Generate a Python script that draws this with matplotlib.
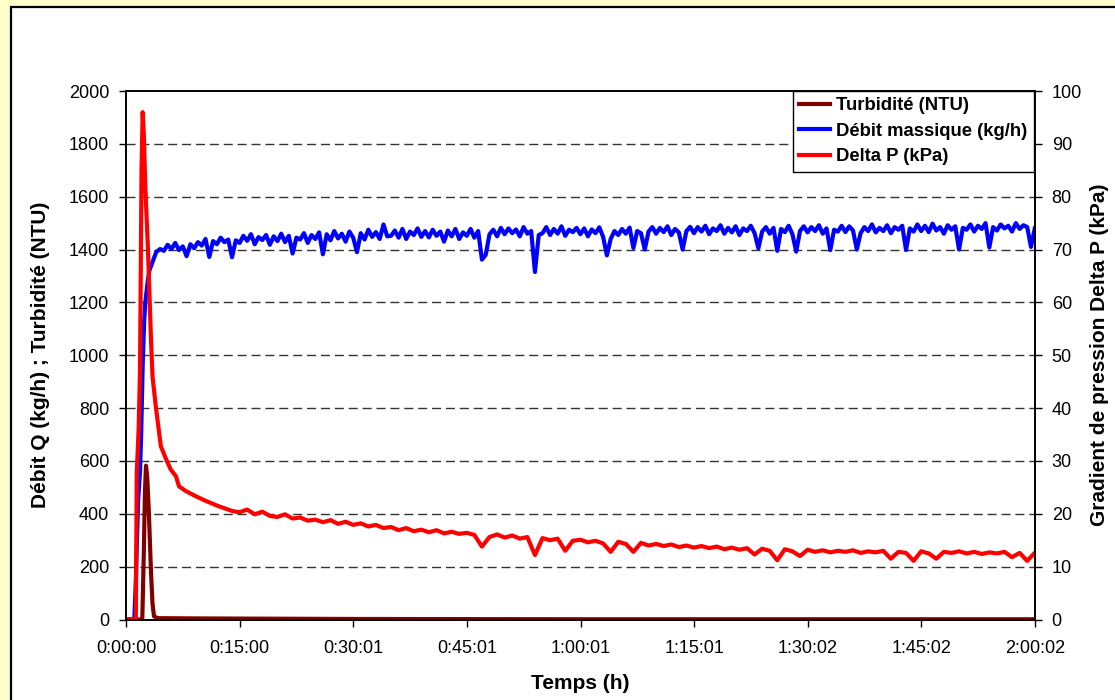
import matplotlib
matplotlib.use("Agg")
import matplotlib.pyplot as plt
from matplotlib.patches import Rectangle
import numpy as np

plt.rcParams['font.family'] = ['Liberation Sans', 'DejaVu Sans']

# time in minutes
x_ticks = [0, 15, 30, 45, 60, 75, 90, 105, 120]
x_ticklabels = ['0:00:00', '0:15:00', '0:30:01', '0:45:01', '1:00:01',
                '1:15:01', '1:30:02', '1:45:02', '2:00:02']

# Turbidité (NTU)
turb_t = [0, 2.15, 2.35, 2.5, 2.64, 2.8, 3.0, 3.3, 3.5, 3.7, 4.2, 10, 20, 30, 60, 120]
turb_v = [0, 0, 250, 480, 582, 540, 420, 180, 60, 12, 5, 4, 3, 2, 1, 1]

# Débit massique (kg/h) - start-up then 0.5 min samples from 5 min
debit_start_t = [0, 1.1, 1.3, 1.6, 1.85, 2.0, 2.2, 2.4, 2.55, 2.86, 3.08, 3.5, 4.0, 4.5]
debit_start_v = [0, 0, 150, 450, 560, 700, 960, 1130, 1201, 1277, 1320, 1353, 1391, 1402]
debit_steady = [
    1395, 1418, 1402, 1425, 1398, 1412, 1375, 1420, 1405, 1428,
    1415, 1440, 1372, 1432, 1420, 1445, 1428, 1438, 1371, 1435,
    1425, 1452, 1433, 1458, 1420, 1447, 1436, 1455, 1418, 1450,
    1432, 1460, 1428, 1452, 1385, 1445, 1438, 1462, 1425, 1455,
    1440, 1465, 1382, 1458, 1435, 1470, 1442, 1460, 1430, 1468,
    1445, 1390, 1462, 1438, 1475, 1448, 1466, 1440, 1495, 1450,
    1452, 1472, 1445, 1478, 1440, 1468, 1455, 1480, 1448, 1470,
    1446, 1475, 1452, 1468, 1430, 1472, 1450, 1478, 1440, 1465,
    1452, 1478, 1445, 1470, 1362, 1380, 1458, 1475, 1450, 1482,
    1458, 1480, 1462, 1476, 1450, 1485, 1460, 1470, 1315, 1455,
    1462, 1485, 1455, 1478, 1460, 1488, 1452, 1475, 1466, 1482,
    1458, 1480, 1450, 1476, 1462, 1484, 1448, 1378, 1440, 1470,
    1455, 1478, 1460, 1483, 1406, 1470, 1462, 1400, 1468, 1485,
    1460, 1482, 1466, 1488, 1455, 1478, 1465, 1400, 1470, 1486,
    1462, 1485, 1468, 1490, 1458, 1480, 1470, 1492, 1460, 1482,
    1465, 1488, 1455, 1480, 1470, 1490, 1462, 1405, 1468, 1485,
    1460, 1482, 1395, 1478, 1466, 1490, 1458, 1392, 1470, 1488,
    1465, 1485, 1470, 1492, 1460, 1480, 1398, 1475, 1468, 1490,
    1466, 1488, 1472, 1400, 1462, 1485, 1470, 1495, 1465, 1482,
    1470, 1492, 1462, 1485, 1475, 1490, 1398, 1480, 1468, 1495,
    1470, 1490, 1466, 1498, 1472, 1485, 1460, 1492, 1475, 1488,
    1400, 1482, 1475, 1495, 1468, 1490, 1478, 1500, 1408, 1485,
    1472, 1495, 1480, 1490, 1468, 1500, 1478, 1492, 1485, 1410,
    1480,
]

# Delta P (kPa) - start-up then 1 min samples from 15 min
dp_start_t = [0, 1.3, 1.42, 1.67, 1.85, 2.05, 2.2, 2.35, 2.55, 2.9, 3.3, 3.5, 3.96,
              4.6, 5.3, 5.9, 6.6, 7.0, 7.9, 9.25, 10.6, 12.3, 14.1]
dp_start_v = [0, 0, 27.8, 36, 47, 85, 96, 92, 82, 70, 53, 46, 40,
              32.8, 30.3, 28.4, 27.1, 25.2, 24.3, 23.3, 22.4, 21.4, 20.5]
dp_steady = [
    20.3, 20.8, 19.9, 20.4, 19.6, 19.4, 19.9, 19.1, 19.3, 18.7,
    18.9, 18.4, 18.8, 18.1, 18.5, 17.9, 18.2, 17.6, 17.9, 17.3,
    17.5, 16.9, 17.3, 16.7, 17.0, 16.5, 16.9, 16.3, 16.6, 16.2,
    16.4, 16.0, 13.8, 15.6, 16.1, 15.5, 15.9, 15.3, 15.6, 12.2,
    15.4, 15.0, 15.3, 13.0, 14.9, 15.1, 14.6, 14.9, 14.4, 12.8,
    14.7, 14.3, 12.8, 14.5, 14.0, 14.3, 13.9, 14.2, 13.7, 14.0,
    13.6, 13.9, 13.5, 13.8, 13.3, 13.6, 13.2, 13.5, 12.3, 13.4,
    13.0, 11.2, 13.3, 12.9, 12.0, 13.2, 12.8, 13.1, 12.7, 13.0,
    12.8, 13.1, 12.6, 12.9, 12.7, 13.0, 11.5, 12.8, 12.6, 11.1,
    12.9, 12.5, 11.5, 12.8, 12.6, 12.9, 12.5, 12.8, 12.4, 12.7,
    12.5, 12.8, 11.8, 12.6, 11.1, 12.6,
]

debit_t = debit_start_t + list(5 + 0.5 * np.arange(len(debit_steady)))
debit_v = debit_start_v + debit_steady
dp_t = dp_start_t + list(15 + 1.0 * np.arange(len(dp_steady)))
dp_v = dp_start_v + dp_steady

fig = plt.figure(figsize=(11.15, 7.0), dpi=100, facecolor='#FFFFCC')
fig.patches.append(Rectangle((11 / 1115, -0.05), 1.2, 1.05 - 7 / 700,
                             transform=fig.transFigure, facecolor='white',
                             edgecolor='black', linewidth=1.6, zorder=0))

ax = fig.add_axes([126 / 1115, 1 - 619.5 / 700, (1035 - 126) / 1115, (619.5 - 91) / 700])
ax2 = ax.twinx()

l1, = ax.plot(turb_t, turb_v, color='#800000', lw=3.0, label='Turbidité (NTU)')
l2, = ax.plot(debit_t, debit_v, color='#0000FF', lw=3.0, label='Débit massique (kg/h)')
l3, = ax2.plot(dp_t, dp_v, color='#FF0000', lw=3.0, label='Delta P (kPa)')
ax.set_zorder(2)
ax2.set_zorder(3)
ax.patch.set_visible(False)
ax2.patch.set_visible(False)

ax.set_xlim(0, 120.03)
ax.set_ylim(0, 2000)
ax2.set_ylim(0, 100)
ax.set_xticks([t * 120.03 / 120 for t in x_ticks])
ax.set_xticklabels(x_ticklabels)
ax.set_yticks(np.arange(0, 2001, 200))
ax2.set_yticks(np.arange(0, 101, 10))

for a in (ax, ax2):
    a.tick_params(direction='out', length=5, width=1, labelsize=13, color='black')
    for s in a.spines.values():
        s.set_linewidth(1.2)
ax.tick_params(axis='x', pad=10)
ax.tick_params(axis='y', pad=7)
ax2.tick_params(axis='y', pad=7)

for v in range(200, 2000, 200):
    ax.axhline(v, color='#333333', lw=1.0, ls=(0, (6.5, 3.5)), zorder=0)

ax.set_xlabel('Temps (h)', fontsize=15, fontweight='bold', labelpad=12)
ax.set_ylabel('Débit Q (kg/h) ; Turbidité (NTU)', fontsize=15, fontweight='bold', labelpad=14)
ax2.set_ylabel('Gradient de pression Delta P (kPa)', fontsize=15, fontweight='bold', labelpad=6)

leg = ax2.legend([l1, l2, l3], [l.get_label() for l in (l1, l2, l3)],
                 loc='upper right', bbox_to_anchor=(0.9985, 1.0), borderaxespad=0,
                 fancybox=False, framealpha=1, edgecolor='black',
                 prop={'weight': 'bold', 'size': 13.3}, handlelength=1.7,
                 handletextpad=0.3, labelspacing=0.45, borderpad=0.35)
leg.get_frame().set_linewidth(1.0)

fig.savefig('out.png', dpi=100, facecolor=fig.get_facecolor())
